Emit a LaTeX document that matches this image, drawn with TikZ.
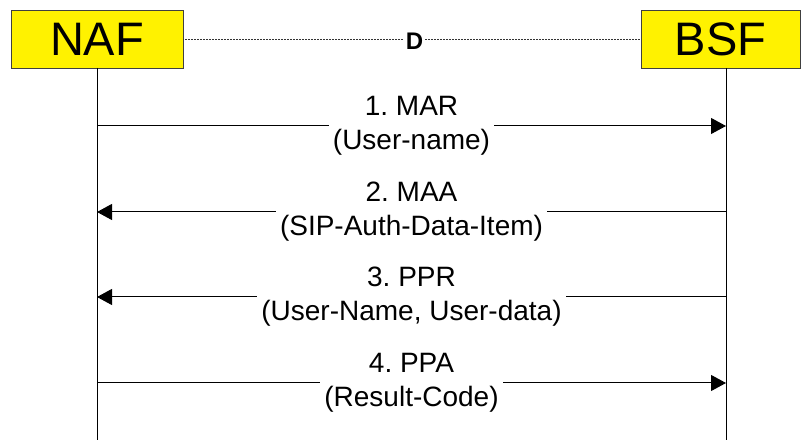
\documentclass[tikz,border=0pt]{standalone}
\usepackage{fontspec}
\setmainfont{Liberation Sans}
\usetikzlibrary{arrows.meta}
\frenchspacing

\begin{document}
\begin{tikzpicture}[
        x=1pt, y=-1pt,
        entity/.style={draw=black!75, fill=yellow, line width=0.8pt, minimum height=58pt, inner sep=0pt, font=\fontsize{47}{50}\selectfont},
        msg/.style={fill=white, align=center, inner xsep=4pt, inner ysep=1pt, font=\fontsize{28}{34}\selectfont},
        life/.style={line width=1pt},
        arr/.style={life, -{Triangle[length=15pt,width=16pt]}},
        ref/.style={line width=0.9pt, black!80, dash pattern=on 1pt off 0.5pt},
        reflabel/.style={fill=white, text=black, inner xsep=2pt, inner ysep=1pt, font=\bfseries\fontsize{24}{24}\selectfont}
    ]
    \useasboundingbox (0,0) rectangle (801,443);

    % entities
    \node[entity, minimum width=172pt] (naf) at (97,39) {NAF};
    \node[entity, minimum width=159pt] (bsf) at (720.5,39) {BSF};

    % reference point D
    \draw[ref] (naf.east) -- (bsf.west)
        node[reflabel, midway, xshift=2.5pt, yshift=-2pt] (d) {D};

    % lifelines
    \coordinate (naftop) at (97,68);
    \coordinate (nafend) at (97,440);
    \coordinate (bsftop) at (726,68);
    \coordinate (bsfend) at (726,440);
    \draw[life] (naftop) -- (nafend);
    \draw[life] (bsftop) -- (bsfend);

    % messages
    \coordinate (n1) at (97,126);
    \coordinate (b1) at (726,126);
    \coordinate (n2) at (97,212);
    \coordinate (b2) at (726,212);
    \coordinate (n3) at (97,297);
    \coordinate (b3) at (726,297);
    \coordinate (n4) at (97,383);
    \coordinate (b4) at (726,383);

    \draw[arr] (n1) -- (b1) node[msg, midway] (mar) {1. MAR\\(User-name)};
    \draw[arr] (b2) -- (n2) node[msg, midway] (maa) {2. MAA\\(SIP-Auth-Data-Item)};
    \draw[arr] (b3) -- (n3) node[msg, midway] (ppr) {3. PPR\\(User-Name, User-data)};
    \draw[arr] (n4) -- (b4) node[msg, midway] (ppa) {4. PPA\\(Result-Code)};

\end{tikzpicture}
\end{document}
